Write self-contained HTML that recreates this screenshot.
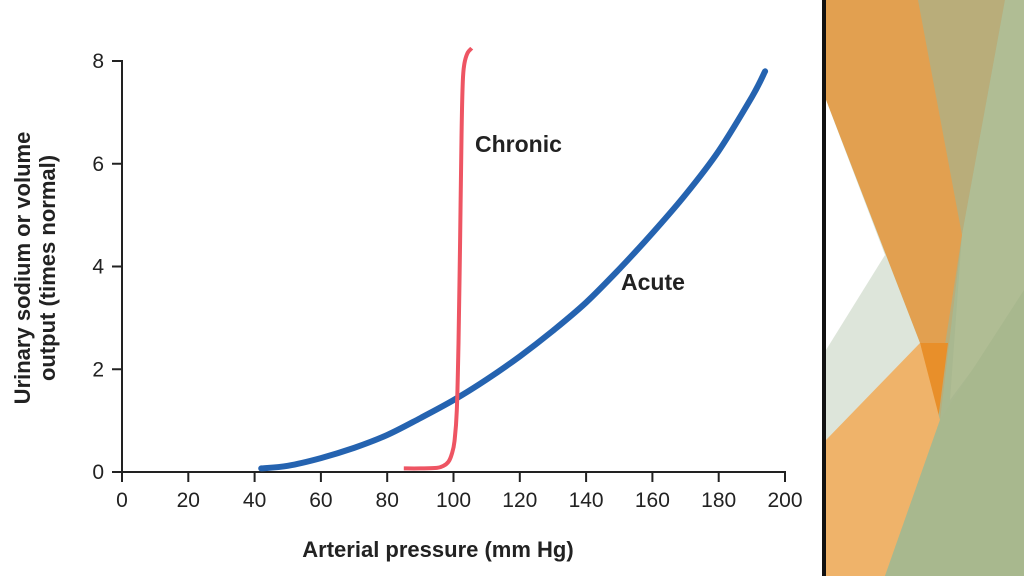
<!DOCTYPE html>
<html><head><meta charset="utf-8"><style>
body{margin:0;width:1024px;height:576px;overflow:hidden;background:#fff;font-family:"Liberation Sans",sans-serif}
</style></head><body>
<svg width="1024" height="576">
<g>
<rect x="826" y="0" width="198" height="576" fill="#a9b890"/>
<polygon points="915,0 1005,0 962,235 940,420" fill="#b9ad7a"/>
<polygon points="1005,0 1024,0 1024,300 950,400 962,235" fill="#b0bd94"/>
<polygon points="826,0 918,0 962,235 938,390 920,343 826,100" fill="#e2a050"/>
<polygon points="826,100 920,343 938,425 826,440" fill="#dde5da"/>
<polygon points="826,100 885,255 826,350" fill="#ffffff"/>
<polygon points="920,343 948,343 938,420" fill="#e88f2a"/>
<polygon points="826,440 920,343 940,420 885,576 826,576" fill="#efb36a"/>
<polygon points="885,576 940,420 1024,290 1024,576" fill="#a8b88e"/>
<rect x="822" y="0" width="4" height="576" fill="#111"/>
</g>
<g id="axes"></g>
<g id="plot"></g>
<text x="438" y="557" text-anchor="middle" font-size="22" font-weight="bold" fill="#222">Arterial pressure (mm Hg)</text>
<text transform="translate(30,268) rotate(-90)" text-anchor="middle" font-size="22" font-weight="bold" fill="#222"><tspan x="0" dy="0">Urinary sodium or volume</tspan><tspan x="0" dy="25">output (times normal)</tspan></text>
<text x="475" y="152" font-size="23" font-weight="bold" fill="#222">Chronic</text>
<text x="621" y="290" font-size="23" font-weight="bold" fill="#222">Acute</text>
</svg>
<script>
const xTicks=[0,20,40,60,80,100,120,140,160,180,200];
const yTicks=[0,2,4,6,8];
const acuteX=[42,50,60,70,80,90,100,110,120,130,140,150,160,170,180,190,194];
const acuteY=[0.07,0.12,0.27,0.47,0.72,1.05,1.4,1.8,2.25,2.75,3.3,3.95,4.65,5.4,6.25,7.3,7.8];
const chronicX=[85,90,95,97,98.5,99.5,100.3,101,101.5,102,102.4,102.8,103.3,104.2,105.5];
const chronicY=[0.07,0.07,0.08,0.12,0.2,0.35,0.6,1.2,2.5,4.5,6.5,7.6,7.95,8.15,8.25];
const X=v=>122+v*(785-122)/200, Y=v=>472-v*(472-61)/8;
const ns="http://www.w3.org/2000/svg";
const ax=document.getElementById('axes'), pl=document.getElementById('plot');
function mk(t,a,p){const e=document.createElementNS(ns,t);for(const k in a)e.setAttribute(k,a[k]);p.appendChild(e);return e;}
const xa=mk('line',{x1:122,y1:472,x2:786,y2:472,stroke:'#222','stroke-width':2},ax);


const ya=mk('line',{x1:122,y1:472,x2:122,y2:60,stroke:'#222','stroke-width':2},ax);


xTicks.forEach(v=>{mk('line',{x1:X(v),y1:472,x2:X(v),y2:482,stroke:'#222','stroke-width':2},ax);
const t=mk('text',{x:X(v),y:507,'text-anchor':'middle','font-size':21,fill:'#222'},ax);t.textContent=v;

});
yTicks.forEach(v=>{mk('line',{x1:112,y1:Y(v),x2:122,y2:Y(v),stroke:'#222','stroke-width':2},ax);
const t=mk('text',{x:104,y:Y(v)+7,'text-anchor':'end','font-size':21,fill:'#222'},ax);t.textContent=v;

});
function path(xs,ys){
  const p=xs.map((x,i)=>[X(x),Y(ys[i])]);
  let d='M'+p[0][0].toFixed(1)+','+p[0][1].toFixed(1);
  for(let i=0;i<p.length-1;i++){
    const p0=p[Math.max(0,i-1)],p1=p[i],p2=p[i+1],p3=p[Math.min(p.length-1,i+2)];
    const c1=[p1[0]+(p2[0]-p0[0])/6,p1[1]+(p2[1]-p0[1])/6];
    const c2=[p2[0]-(p3[0]-p1[0])/6,p2[1]-(p3[1]-p1[1])/6];
    d+='C'+c1.map(n=>n.toFixed(1)).join(',')+' '+c2.map(n=>n.toFixed(1)).join(',')+' '+p2.map(n=>n.toFixed(1)).join(',');
  }
  return d;
}
const a=mk('path',{d:path(acuteX,acuteY),fill:'none',stroke:'#2563b0','stroke-width':6,'stroke-linecap':'round','stroke-linejoin':'round'},pl);


const c=mk('path',{d:path(chronicX,chronicY),fill:'none',stroke:'#ee5563','stroke-width':4,'stroke-linejoin':'round'},pl);


</script>
</body></html>
